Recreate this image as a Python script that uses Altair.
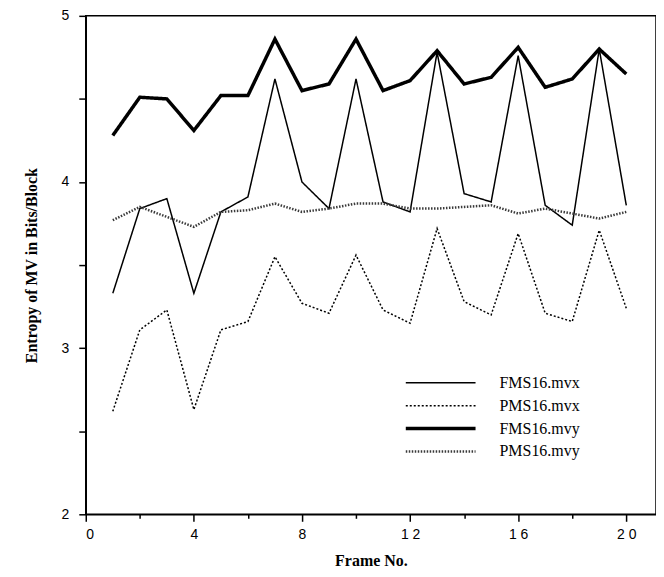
import altair as alt
import pandas as pd

frames = list(range(1, 21))
fms_mvx = [3.33, 3.84, 3.90, 3.33, 3.82, 3.91, 4.62, 4.00, 3.84, 4.62,
           3.88, 3.82, 4.78, 3.93, 3.88, 4.76, 3.86, 3.74, 4.80, 3.86]
pms_mvx = [2.62, 3.11, 3.23, 2.63, 3.11, 3.16, 3.55, 3.27, 3.21, 3.56,
           3.23, 3.15, 3.72, 3.28, 3.20, 3.69, 3.21, 3.16, 3.71, 3.24]
fms_mvy = [4.28, 4.51, 4.50, 4.31, 4.52, 4.52, 4.86, 4.55, 4.59, 4.86,
           4.55, 4.61, 4.79, 4.59, 4.63, 4.81, 4.57, 4.62, 4.80, 4.65]
pms_mvy = [3.77, 3.85, 3.79, 3.73, 3.82, 3.83, 3.87, 3.82, 3.84, 3.87,
           3.87, 3.84, 3.84, 3.85, 3.86, 3.81, 3.84, 3.81, 3.78, 3.82]
series_names = ["FMS16.mvx", "PMS16.mvx", "FMS16.mvy", "PMS16.mvy"]
x_ticks = [0, 2, 4, 6, 8, 10, 12, 14, 16, 18, 20]
y_ticks = [2, 2.5, 3, 3.5, 4, 4.5, 5]

rows = []
for name, vals in zip(series_names, [fms_mvx, pms_mvx, fms_mvy, pms_mvy]):
    for f, v in zip(frames, vals):
        rows.append({"frame": f, "entropy": v, "series": name})
df = pd.DataFrame(rows)

width_expr = "datum.value == 'FMS16.mvy' ? 3.5 : (datum.value == 'PMS16.mvy' ? 2.5 : 1.5)"

leg = alt.Legend(
    orient="none", legendX=348, legendY=360, title=None,
    symbolType="M-3,0H3", symbolSize=544, labelOffset=51,
    labelFont="Liberation Serif", labelFontSize=16, labelColor="black",
    rowPadding=7, symbolStrokeColor="black",
    symbolStrokeWidth=alt.ExprRef(expr=width_expr),
)

stroke_w = alt.StrokeWidthValue(
    value=1.5,
    condition=[
        {"test": "datum.series == 'FMS16.mvy'", "value": 3.5},
        {"test": "datum.series == 'PMS16.mvy'", "value": 2.5},
    ],
)

chart = alt.Chart(df).mark_line(strokeJoin="miter").encode(
    x=alt.X("frame:Q", title="Frame No.",
            scale=alt.Scale(domain=[0, 21.1], nice=False, zero=False),
            axis=alt.Axis(values=x_ticks, ticks=True,
                          labelExpr="datum.value % 4 == 0 ? join(split(format(datum.value, 'd'), ''), ' ') : ''",
                          tickSize={"condition": {"test": "datum.value % 4 == 0", "value": 7}, "value": 4},
                          labelPadding=6, titlePadding=11)),
    y=alt.Y("entropy:Q", title="Entropy  of  MV  in  Bits/Block",
            scale=alt.Scale(domain=[2, 5], nice=False, zero=False),
            axis=alt.Axis(values=y_ticks, ticks=True,
                          labelExpr="datum.value % 1 == 0 ? format(datum.value, 'd') : ''",
                          tickSize=7, labelPadding=10, titlePadding=22)),
    color=alt.Color("series:N", scale=alt.Scale(domain=series_names,
                    range=["black", "black", "black", "#3a3a3a"]), legend=leg),
    strokeDash=alt.StrokeDash("series:N", scale=alt.Scale(domain=series_names,
                    range=[[1, 0], [2, 2], [1, 0], [1.5, 1.5]]), legend=leg),
    strokeWidth=stroke_w,
).properties(
    width=572, height=500,
    autosize=alt.AutoSizeParams(type="none"),
    padding={"left": 78, "top": 7, "right": 0, "bottom": 54},
    background="white",
).configure_view(
    stroke="black", strokeWidth=1.5
).configure_axis(
    grid=False, domainColor="black", domainWidth=1.5,
    ticks=True, tickColor="black", tickWidth=1.5,
    labelFont="Liberation Sans", labelFontSize=14, labelColor="black",
    titleFont="Liberation Serif", titleFontWeight="bold", titleFontSize=16,
    titleColor="black",
)

chart.save("out.html", embed_options={"renderer": "svg", "actions": False})
